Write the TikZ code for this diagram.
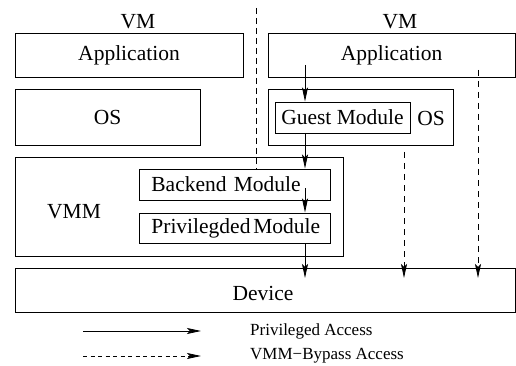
\documentclass[tikz,border=0pt]{standalone}
\usepackage{fontspec}
\setmainfont{Liberation Serif}
\usetikzlibrary{arrows.meta}
\begin{document}
\begin{tikzpicture}[x=1pt,y=-1pt,
  box/.style={draw, line width=0.8pt, rectangle, inner sep=0pt,
    font=\fontsize{21.5}{24}\selectfont},
  modbox/.style={box, anchor=west, text width=167pt, inner xsep=12pt, align=left},
  txt/.style={inner sep=0pt, font=\fontsize{21.5}{24}\selectfont},
  small/.style={inner sep=0pt, anchor=west, font=\fontsize{17}{19}\selectfont},
  tip/.style={-{Stealth[length=14pt,width=6pt,inset=3pt]}},
  priv/.style={line width=0.8pt, tip},
  bypass/.style={line width=0.8pt, tip, dash pattern=on 6pt off 5pt},
  sep/.style={line width=0.8pt, dash pattern=on 6pt off 4pt}]
\useasboundingbox (0,0) rectangle (516,366);

% layer boxes
\node[box, minimum width=228pt, minimum height=44pt] (app1) at (129,55) {Application};
\node[box, minimum width=247pt, minimum height=44pt] (app2) at (391.5,55) {Application};
\node[box, minimum width=185pt, minimum height=56pt] (os1) at (107.5,117) {OS};
\node[box, minimum width=185pt, minimum height=56pt] (os2) at (360.5,117) {};
\node[txt] (os2lbl) at (431,118) {OS};
\node[box, minimum width=135pt, minimum height=31pt] (guest) at (342.5,117.5) {Guest Module};
\node[box, minimum width=328pt, minimum height=99pt] (vmm) at (179,206.5) {};
\node[txt] (vmmlbl) at (74,212) {VMM};
\node[modbox, minimum height=31pt] (backend) at (139,184.5) {\mbox{Backend Module}};
\node[modbox, minimum height=30pt] (privmod) at (139,228) {\mbox{Privilegded\hspace{0.13em}Module}};
\node[box, minimum width=500pt, minimum height=44pt] (device) at (265,290) {};
\node[txt] (devlbl) at (263,293) {Device};

% VM titles
\node[txt] (vm1) at (138,22) {VM};
\node[txt] (vm2) at (400,22) {VM};

% connector end points
\coordinate (sepTop) at (256,8);
\coordinate (sepBot) at (256,169);
\coordinate (a0) at (305,65);
\coordinate (a1) at (305,101.5);
\coordinate (a2) at (305,133);
\coordinate (a3) at (305,168.5);
\coordinate (a4) at (305,188);
\coordinate (a5) at (305,212.5);
\coordinate (a6) at (305,243);
\coordinate (a7) at (305,278);
\coordinate (b0) at (404,152);
\coordinate (b1) at (404,278);
\coordinate (c0) at (478,70);
\coordinate (c1) at (478,278);

% VM boundary
\draw[sep] (sepTop) -- (sepBot);

% privileged access path
\draw[priv] (a0) -- (a1);
\draw[priv] (a2) -- (a3);
\draw[priv] (a4) -- (a5);
\draw[priv] (a6) -- (a7);

% VMM-bypass paths
\draw[bypass] (b0) -- (b1);
\draw[bypass] (c0) -- (c1);

% legend
\coordinate (l1s) at (83,331);
\coordinate (l1e) at (201,331);
\coordinate (l2s) at (83,356);
\coordinate (l2e) at (201,356);
\draw[priv] (l1s) -- (l1e);
\draw[line width=0.8pt, tip, dash pattern=on 4pt off 3.5pt] (l2s) -- (l2e);
\node[small] (leg1) at (250,331) {Privileged Access};
\node[small] (leg2) at (250,356) {VMM\textminus Bypass Access};
\end{tikzpicture}
\end{document}
